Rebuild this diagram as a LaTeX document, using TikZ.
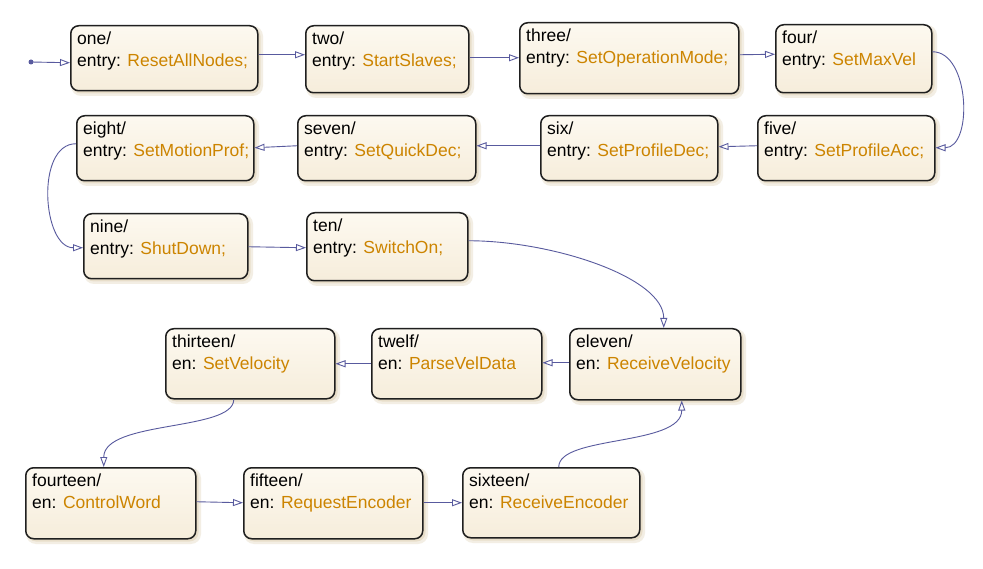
\documentclass[tikz,border=0pt]{standalone}
\usepackage{fontspec}
\setmainfont{Liberation Sans}
\usetikzlibrary{arrows.meta}
\definecolor{trans}{RGB}{88,90,158}
\definecolor{act}{RGB}{204,132,0}
\definecolor{fillT}{RGB}{253,249,240}
\definecolor{fillB}{RGB}{246,237,219}
\definecolor{shad}{RGB}{222,208,178}
\tikzset{
  stbox/.style={draw=black!88, line width=1.5pt, rounded corners=8pt, top color=fillT, bottom color=fillB, anchor=north west, inner sep=0pt},
  sttext/.style={anchor=base west, inner sep=0pt, font=\fontsize{17.5}{20}\selectfont},
  tr/.style={draw=trans, line width=0.9pt, -{Triangle[open,length=10pt,width=7pt]}},
  shadA/.style={fill=shad, opacity=0.35, rounded corners=10pt},
  shadB/.style={fill=shad, opacity=0.5, rounded corners=9pt},
}
\newcommand{\mkstate}[8]{%
  \fill[shadA] (#2+1,#3+1) rectangle (#2+#4+6,#3+#5+6);
  \fill[shadB] (#2+2,#3+2) rectangle (#2+#4+3.5,#3+#5+3.5);
  \node[stbox, minimum width=#4pt, minimum height=#5pt] (#1) at (#2,#3) {};
  \node[sttext] (#1-n) at (#2+7,#3+19.5) {#6/};
  \node[sttext] (#1-a) at (#2+7,#3+41.5) {#7: \textcolor{act}{#8}};
}
\begin{document}
\begin{tikzpicture}[x=1pt,y=-1pt]
\fill[white] (0,0) rectangle (983,569);
\useasboundingbox (0,0) rectangle (983,569);

\mkstate{one}{70}{25}{187}{65}{one}{entry}{ResetAllNodes;}
\mkstate{two}{305}{25}{163}{67}{two}{entry}{StartSlaves;}
\mkstate{three}{519}{22}{219}{71}{three}{entry}{SetOperationMode;}
\mkstate{four}{775}{24}{156}{68}{four}{entry}{SetMaxVel}
\mkstate{five}{757}{115}{177}{65}{five}{entry}{SetProfileAcc;}
\mkstate{six}{540}{115}{177}{65}{six}{entry}{SetProfileDec;}
\mkstate{seven}{297}{115}{178}{65}{seven}{entry}{SetQuickDec;}
\mkstate{eight}{76}{115}{177}{65}{eight}{entry}{SetMotionProf;}
\mkstate{nine}{83}{213}{164}{65}{nine}{entry}{ShutDown;}
\mkstate{ten}{306}{212}{161}{68}{ten}{entry}{SwitchOn;}
\mkstate{eleven}{569}{328}{171}{71}{eleven}{en}{ReceiveVelocity}
\mkstate{twelf}{371}{328}{170}{70}{twelf}{en}{ParseVelData}
\mkstate{thirteen}{165}{328}{169}{70}{thirteen}{en}{SetVelocity}
\mkstate{fourteen}{25}{467}{170}{71}{fourteen}{en}{ControlWord}
\mkstate{fifteen}{243}{467}{179}{71}{fifteen}{en}{RequestEncoder}
\mkstate{sixteen}{462}{467}{177}{70}{sixteen}{en}{ReceiveEncoder}

\coordinate (start) at (31,62);
\fill[trans] (start) circle (2.5pt);
\draw[tr] (start) -- ([yshift=-4.5pt]one.west);
\draw[tr] ([yshift=3.5pt]one.east) -- ([yshift=4.5pt]two.west);
\draw[tr] ([yshift=1.5pt]two.east) -- ([yshift=0.5pt]three.west);
\draw[tr] ([yshift=3.5pt]three.east) -- ([yshift=4.5pt]four.west);
\draw[tr] ([yshift=7pt]four.east) to[out=0,in=0] ([yshift=0.5pt]five.east);
\draw[tr] ([yshift=2.5pt]five.west) -- ([yshift=1.5pt]six.east);
\draw[tr] ([yshift=2.5pt]six.west) -- ([yshift=2.5pt]seven.east);
\draw[tr] ([yshift=2.5pt]seven.west) -- ([yshift=0.5pt]eight.east);
\draw[tr] ([yshift=4.5pt]eight.west) to[out=180,in=180] ([yshift=-1.5pt]nine.west);
\draw[tr] ([yshift=-0.5pt]nine.east) -- ([yshift=-1pt]ten.west);
\draw[tr] ([yshift=6pt]ten.east) .. controls +(83,0) and +(0,-51) .. ([xshift=8.5pt]eleven.north);
\draw[tr] ([yshift=1.5pt]eleven.west) -- ([yshift=1pt]twelf.east);
\draw[tr] (twelf.west) -- (thirteen.east);
\draw[tr] ([xshift=-16.5pt]thirteen.south) .. controls +(0,32) and +(0,-47) .. ([xshift=-7pt]fourteen.north);
\draw[tr] ([yshift=1.5pt]fourteen.east) -- ([yshift=0.5pt]fifteen.west);
\draw[tr] ([yshift=0.5pt]fifteen.east) -- (sixteen.west);
\draw[tr] ([xshift=7.5pt]sixteen.north) .. controls +(0,-32) and +(0,46) .. ([xshift=26.5pt]eleven.south);
\end{tikzpicture}
\end{document}
